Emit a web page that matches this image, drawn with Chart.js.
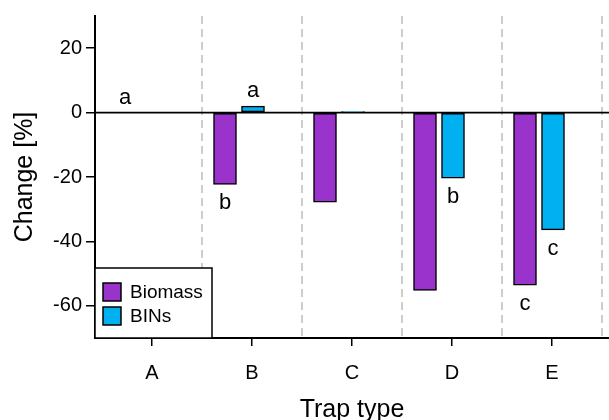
<!DOCTYPE html>
<html>
<head>
<meta charset="utf-8">
<script src="https://cdn.jsdelivr.net/npm/chart.js@4.4.1/dist/chart.umd.min.js"></script>
<style>
  body { margin: 0; background: #fff; }
  canvas { display: block; }
</style>
</head>
<body>
<canvas id="chart" width="609" height="420"></canvas>
<script>
// values
const categories = ['A', 'B', 'C', 'D', 'E'];
const biomass = [0, -22.3, -27.8, -55.2, -53.6];
const bins = [null, 2, 0.3, -20.4, -36.4];
const biomassLetters = ['a', 'b', '', '', 'c'];
const binsLetters = ['', 'a', '', 'b', 'c'];
const yTicks = [-60, -40, -20, 0, 20];

const FONT = "'Liberation Sans', Arial, sans-serif";
const PURPLE = '#9933cc';
const CYAN = '#00b0f0';
// bar centres relative to the category tick, as in the original figure
const SHIFT_BIOMASS = -0.27;
const SHIFT_BINS = 0.01;

const toPoints = (arr, shift) => arr
  .map((v, i) => (v === null ? null : { x: i + 1 + shift, y: v }))
  .filter(p => p !== null);

const extras = {
  id: 'extras',
  beforeDatasetsDraw(chart) {
    const { ctx, chartArea: a, scales: { x, y } } = chart;
    ctx.save();
    // dashed separators between trap types
    ctx.strokeStyle = '#bdbdbd';
    ctx.lineWidth = 1.5;
    ctx.setLineDash([8, 5]);
    for (let i = 0; i < categories.length; i++) {
      const px = x.getPixelForValue(i + 1.5);
      ctx.beginPath();
      ctx.moveTo(px, a.top);
      ctx.lineTo(px, a.bottom);
      ctx.stroke();
    }
    // zero line
    ctx.setLineDash([]);
    ctx.strokeStyle = '#000';
    ctx.lineWidth = 1.8;
    const y0 = y.getPixelForValue(0);
    ctx.beginPath();
    ctx.moveTo(a.left, y0);
    ctx.lineTo(a.right, y0);
    ctx.stroke();
    ctx.restore();
  },
  afterDraw(chart) {
    const { ctx, chartArea: a, scales: { x, y } } = chart;
    ctx.save();
    // significance letters
    ctx.fillStyle = '#000';
    ctx.font = `22px ${FONT}`;
    ctx.textAlign = 'center';
    ctx.textBaseline = 'alphabetic';
    const put = (vals, letters, shift) => {
      vals.forEach((v, i) => {
        if (!letters[i] || v === null) return;
        const px = x.getPixelForValue(i + 1 + shift);
        const py = v >= 0 ? y.getPixelForValue(v) - 9 : y.getPixelForValue(v) + 25;
        ctx.fillText(letters[i], px, py);
      });
    };
    put(biomass, biomassLetters, SHIFT_BIOMASS);
    put(bins, binsLetters, SHIFT_BINS);

    // legend box in the lower-left corner
    const bw = 117, bh = 70;
    const bx = a.left, by = a.bottom - bh;
    ctx.fillStyle = '#fff';
    ctx.fillRect(bx, by, bw, bh);
    ctx.strokeStyle = '#000';
    ctx.lineWidth = 1.5;
    ctx.strokeRect(bx, by, bw, bh);
    ctx.font = `19px ${FONT}`;
    ctx.textAlign = 'left';
    ctx.textBaseline = 'middle';
    chart.data.datasets.forEach((ds, i) => {
      const cy = by + 24 + i * 24;
      ctx.fillStyle = ds.backgroundColor;
      ctx.fillRect(bx + 8, cy - 9, 18, 18);
      ctx.strokeRect(bx + 8, cy - 9, 18, 18);
      ctx.fillStyle = '#000';
      ctx.fillText(ds.label, bx + 35, cy + 1);
    });
    ctx.restore();
  }
};

new Chart(document.getElementById('chart'), {
  type: 'bar',
  data: {
    datasets: [
      {
        label: 'Biomass',
        data: toPoints(biomass, SHIFT_BIOMASS),
        backgroundColor: PURPLE,
        borderColor: '#000',
        borderWidth: 1.5,
        borderSkipped: false,
        barThickness: 23,
        grouped: false
      },
      {
        label: 'BINs',
        data: toPoints(bins, SHIFT_BINS),
        backgroundColor: CYAN,
        borderColor: '#000',
        borderWidth: 1.5,
        borderSkipped: false,
        barThickness: 23,
        grouped: false
      }
    ]
  },
  options: {
    responsive: false,
    animation: false,
    layout: { padding: { top: 15, right: 0, left: 0, bottom: 0 } },
    plugins: {
      legend: { display: false },
      tooltip: { enabled: false }
    },
    scales: {
      x: {
        type: 'linear',
        offset: false,
        min: 0.43,
        max: 5.57,
        afterBuildTicks: s => { s.ticks = categories.map((c, i) => ({ value: i + 1 })); },
        afterFit: s => { s.height = 82; },
        ticks: {
          callback: v => categories[v - 1],
          color: '#000',
          font: { family: FONT, size: 20 },
          padding: 15,
          maxRotation: 0,
          autoSkip: false
        },
        grid: { offset: false, drawOnChartArea: false, drawTicks: true, tickLength: 8, color: '#000', lineWidth: 1.5 },
        border: { display: true, color: '#000', width: 2 },
        title: {
          display: true,
          text: 'Trap type',
          color: '#000',
          font: { family: FONT, size: 25, lineHeight: 0.8 },
          padding: 0
        }
      },
      y: {
        min: -70,
        max: 30,
        afterBuildTicks: s => { s.ticks = yTicks.map(v => ({ value: v })); },
        afterFit: s => { s.width = 95; },
        ticks: {
          color: '#000',
          font: { family: FONT, size: 20 },
          padding: 4
        },
        grid: { drawOnChartArea: false, drawTicks: true, tickLength: 9, color: '#000', lineWidth: 1.5 },
        border: { display: true, color: '#000', width: 2 },
        title: {
          display: true,
          text: 'Change [%]',
          color: '#000',
          font: { family: FONT, size: 25, lineHeight: 2 },
          padding: 0
        }
      }
    }
  },
  plugins: [extras]
});
</script>
</body>
</html>
